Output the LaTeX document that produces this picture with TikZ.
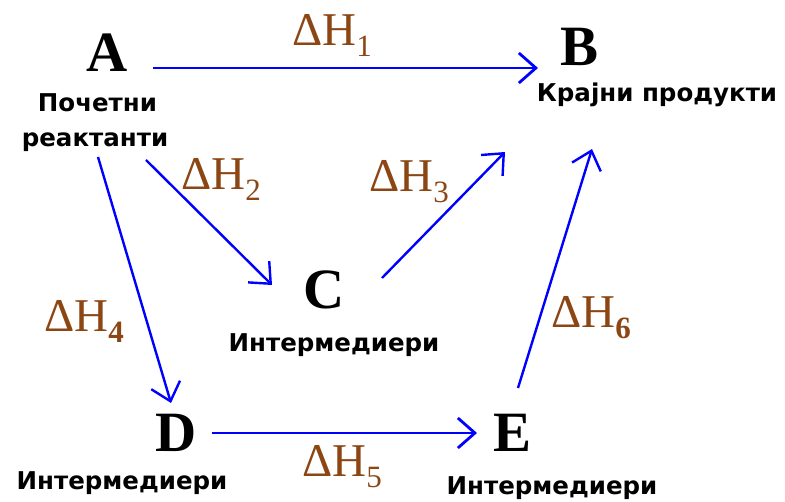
\documentclass[tikz,border=0pt]{standalone}
\usepackage{fontspec}
\setmainfont{Liberation Serif}
\newfontfamily\lblfont{DejaVu Sans}
\usetikzlibrary{arrows.meta,calc}
\definecolor{arrblue}{RGB}{0,0,255}
\definecolor{dhbrown}{RGB}{140,70,20}
\newcommand{\dhsub}[1]{\raisebox{-11pt}{\fontsize{31}{31}\selectfont #1}}
\begin{document}
\begin{tikzpicture}[x=1pt,y=-1pt,
  letter/.style={inner sep=0pt,anchor=base,font=\fontsize{57}{57}\selectfont\bfseries},
  lbl/.style={inner sep=0pt,anchor=base,font=\lblfont\bfseries\fontsize{24.5}{25}\selectfont},
  dh/.style={inner sep=0pt,anchor=base west,text=dhbrown,font=\fontsize{47}{47}\selectfont},
  arr/.style={draw=arrblue,line width=2.4pt,-{Straight Barb[length=17pt,width=30pt]}}]
\useasboundingbox (0,0) rectangle (785,502);
% letters
\node[letter] (A) at (107,72) {A};
\node[letter] (B) at (580,66) {B};
\node[letter] (C) at (324,309) {C};
\node[letter] (D) at (176,452) {D};
\node[letter] (E) at (513,452) {E};
% labels
\node[lbl] (la1) at (97.5,112) {Почетни};
\node[lbl] (la2) at (95,147) {реактанти};
\node[lbl] (lb) at (657,102) {Крајни продукти};
\node[lbl] (lc) at (334,352) {Интермедиери};
\node[lbl] (ld) at (122,490) {Интермедиери};
\node[lbl] (le) at (552,495) {Интермедиери};
% enthalpy labels
\node[dh] (h1) at (292,46) {ΔH\dhsub{1}};
\node[dh] (h2) at (181,190) {ΔH\dhsub{2}};
\node[dh] (h3) at (369,192) {ΔH\dhsub{3}};
\node[dh] (h4) at (44,332) {ΔH\dhsub{\bfseries 4}};
\node[dh] (h5) at (302,477) {ΔH\dhsub{5}};
\node[dh] (h6) at (551,328) {ΔH\dhsub{\bfseries 6}};
% arrows
\draw[arr,line width=2.8pt] ($(A.base)+(46,-4)$) -- ($(B.base)+(-42,2)$);
\draw[arr] ($(A.base)+(39,88)$) -- ($(C.base)+(-52,-24)$);
\draw[arr] ($(C.base)+(58,-31)$) -- ($(B.base)+(-75,86)$);
\draw[arr] ($(A.base)+(-9,85)$) -- ($(D.base)+(-5,-49)$);
\draw[arr,line width=2.8pt] ($(D.base)+(36,-19)$) -- ($(E.base)+(-36,-19)$);
\draw[arr] ($(E.base)+(5,-64)$) -- ($(B.base)+(12,83)$);
\end{tikzpicture}
\end{document}
